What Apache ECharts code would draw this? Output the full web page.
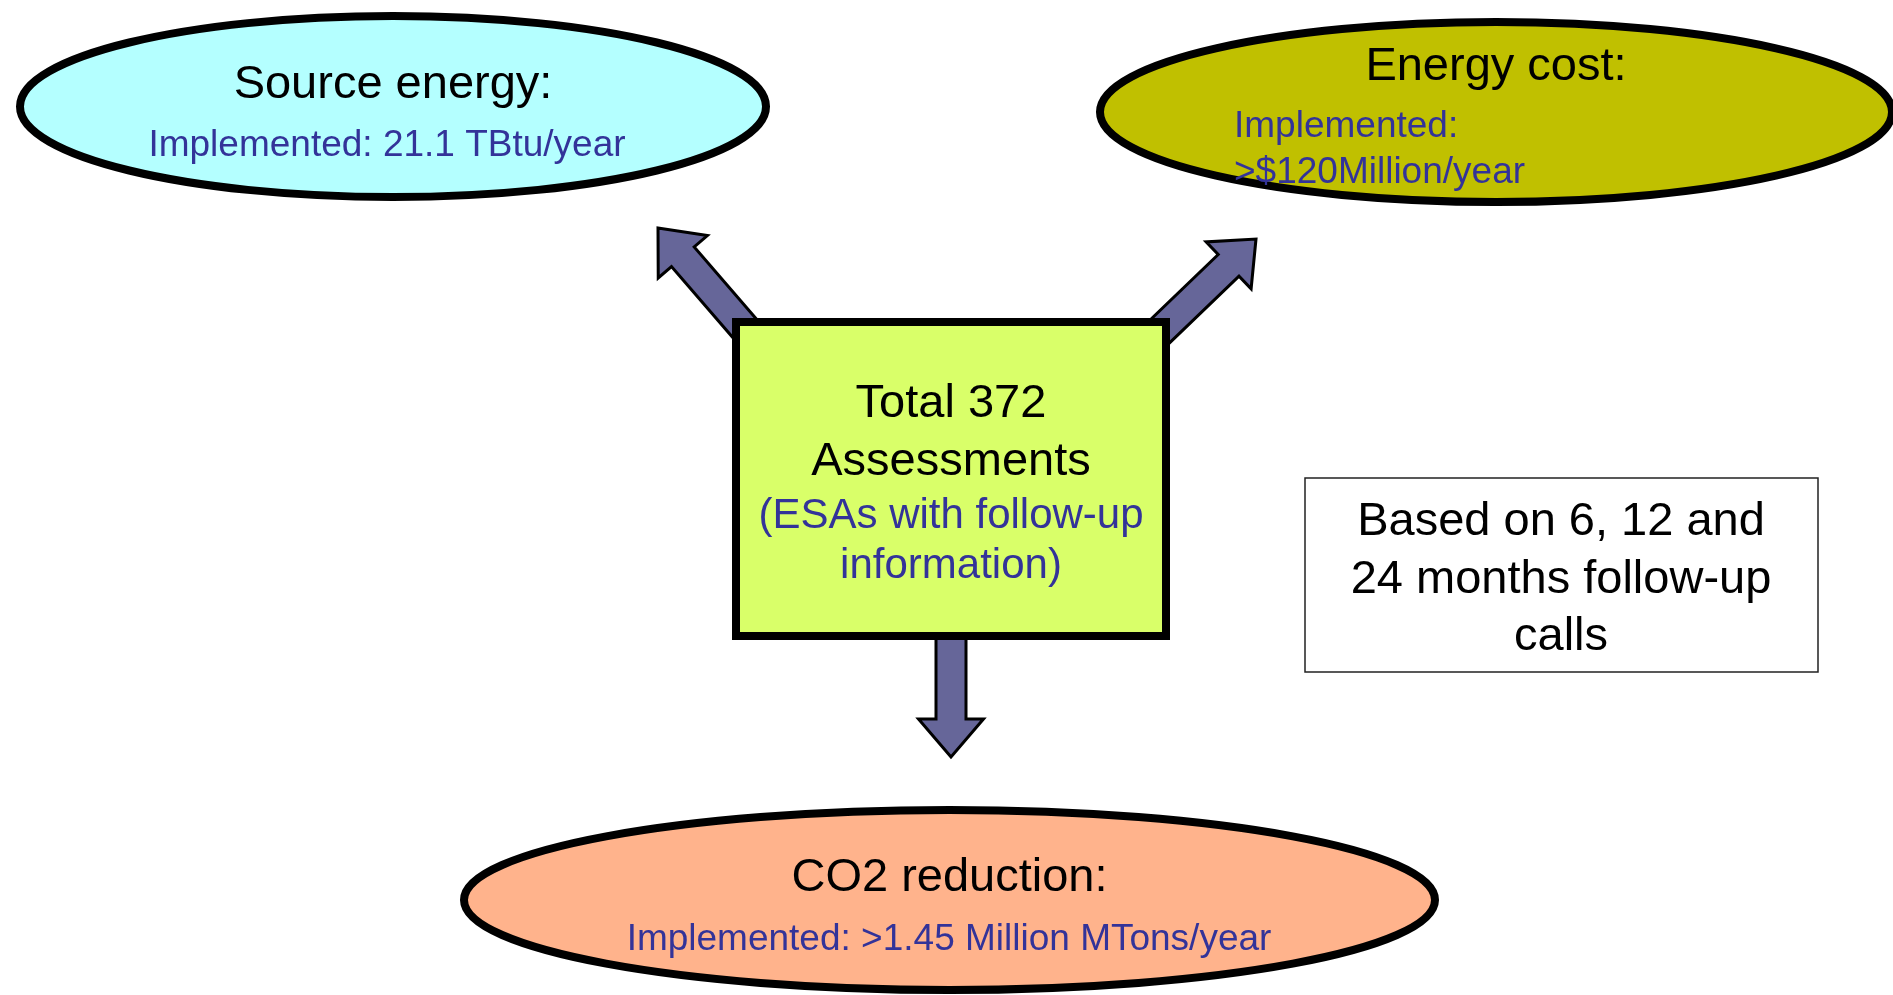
<!DOCTYPE html>
<html>
<head>
<meta charset="utf-8">
<title>Assessment results</title>
<script src="https://cdn.jsdelivr.net/npm/echarts@6/dist/echarts.min.js"></script>
<style>
  html, body { margin: 0; padding: 0; background: #ffffff; }
  #chart { width: 1893px; height: 995px; }
</style>
</head>
<body>
<div id="chart"></div>
<script>
  // texts of the diagram
  const resultTitles = ["Source energy:", "Energy cost:", "CO2 reduction:"];
  const resultValues = [
    ["Implemented: 21.1 TBtu/year"],
    ["Implemented:", ">$120Million/year"],
    ["Implemented: >1.45 Million MTons/year"]
  ];
  const totalLines = ["Total 372", "Assessments"];
  const totalNote = ["(ESAs with follow-up", "information)"];
  const noteLines = ["Based on 6, 12 and", "24 months follow-up", "calls"];

  // layout, in pixels of the 1893 x 995 page
  const ellipses = [
    { cx: 393, cy: 106.5, rx: 373, ry: 90.5, fill: "#b4ffff", titleY: 85.5, valueY: [145.5], align: "center", valueX: 387 },
    { cx: 1496, cy: 112, rx: 396, ry: 90, fill: "#c0c000", titleY: 67.5, valueY: [126.5, 173], align: "left", valueX: 1234 },
    { cx: 949.5, cy: 900, rx: 485.5, ry: 90, fill: "#ffb38c", titleY: 878.5, valueY: [940], align: "center", valueX: 949 }
  ];
  const arrows = [
    { from: [772, 360], to: [658, 228] },
    { from: [1128, 362], to: [1256, 239] },
    { from: [951, 600], to: [951, 757] }
  ];
  const centreBox = { x: 736, y: 322, w: 430, h: 314 };
  const noteBox = { x: 1305, y: 478, w: 513, h: 194 };

  const font = "'Liberation Sans', Arial, sans-serif";
  const blue = "#333399";

  function arrowPoints(api, a) {
    const p0 = api.coord(a.from);
    const p1 = api.coord(a.to);
    const dx = p1[0] - p0[0], dy = p1[1] - p0[1];
    const len = Math.sqrt(dx * dx + dy * dy);
    const ux = dx / len, uy = dy / len;
    const nx = -uy, ny = ux;
    const shaft = 15, head = 32.5, headLen = 38;
    const bx = p1[0] - ux * headLen, by = p1[1] - uy * headLen;
    return [
      [p0[0] + nx * shaft, p0[1] + ny * shaft],
      [bx + nx * shaft, by + ny * shaft],
      [bx + nx * head, by + ny * head],
      p1,
      [bx - nx * head, by - ny * head],
      [bx - nx * shaft, by - ny * shaft],
      [p0[0] - nx * shaft, p0[1] - ny * shaft]
    ];
  }

  function label(api, x, y, text, size, color, align) {
    const p = api.coord([x, y]);
    return {
      type: "text",
      z2: 20,
      style: {
        x: p[0], y: p[1], text: text,
        fontFamily: font, fontSize: size, fill: color,
        align: align || "center", verticalAlign: "middle"
      }
    };
  }

  const option = {
    animation: false,
    backgroundColor: "#ffffff",
    grid: { left: 0, right: 0, top: 0, bottom: 0 },
    xAxis: { type: "value", min: 0, max: 1893, show: false },
    yAxis: { type: "value", min: 0, max: 995, inverse: true, show: false },
    series: [
      {
        // block arrows, under the centre box
        type: "custom",
        z: 1,
        data: arrows.map((a, i) => [i]),
        renderItem: (params, api) => {
          const a = arrows[api.value(0)];
          return {
            type: "polygon",
            shape: { points: arrowPoints(api, a) },
            style: { fill: "#666699", stroke: "#000000", lineWidth: 3, lineJoin: "miter" }
          };
        }
      },
      {
        // centre box and note box
        type: "custom",
        z: 2,
        data: [[0]],
        renderItem: (params, api) => {
          const c = api.coord([centreBox.x, centreBox.y]);
          const n = api.coord([noteBox.x, noteBox.y]);
          const children = [
            {
              type: "rect",
              shape: { x: c[0], y: c[1], width: centreBox.w, height: centreBox.h },
              style: { fill: "#d9ff69", stroke: "#000000", lineWidth: 8 }
            },
            {
              type: "rect",
              shape: { x: n[0], y: n[1], width: noteBox.w, height: noteBox.h },
              style: { fill: "#ffffff", stroke: "#222222", lineWidth: 1.5 }
            },
            label(api, 951, 404.5, totalLines[0], 47, "#000000"),
            label(api, 951, 462.5, totalLines[1], 47, "#000000"),
            label(api, 951, 516.5, totalNote[0], 42, blue),
            label(api, 951, 566.5, totalNote[1], 42, blue)
          ];
          const noteY = [522.5, 580.5, 637.5];
          noteLines.forEach((t, i) => children.push(label(api, 1561, noteY[i], t, 47, "#000000")));
          return { type: "group", children: children };
        }
      },
      {
        // result ellipses
        type: "custom",
        z: 3,
        data: ellipses.map((e, i) => [i]),
        renderItem: (params, api) => {
          const i = api.value(0);
          const e = ellipses[i];
          const c = api.coord([e.cx, e.cy]);
          const children = [
            {
              type: "ellipse",
              shape: { cx: c[0], cy: c[1], rx: e.rx, ry: e.ry },
              style: { fill: e.fill, stroke: "#000000", lineWidth: 8 }
            },
            label(api, e.cx, e.titleY, resultTitles[i], 47, "#000000")
          ];
          resultValues[i].forEach((t, k) => {
            children.push(label(api, e.valueX, e.valueY[k], t, 37, blue, e.align));
          });
          return { type: "group", children: children };
        }
      }
    ]
  };

  const chart = echarts.init(document.getElementById("chart"));
  chart.setOption(option);
</script>
</body>
</html>
